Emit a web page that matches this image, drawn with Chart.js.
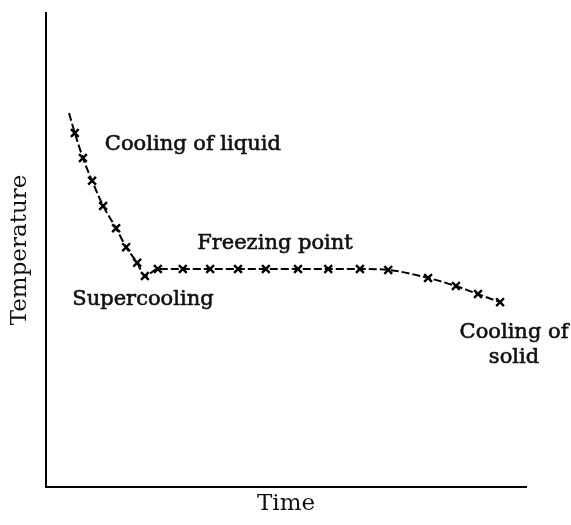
<!DOCTYPE html>
<html>
<head>
<meta charset="utf-8">
<script src="https://cdn.jsdelivr.net/npm/chart.js@4"></script>
<style>
  html, body { margin: 0; padding: 0; background: #fff; }
  canvas { display: block; }
</style>
</head>
<body>
<canvas id="chart" width="571" height="525"></canvas>
<script>
// cooling curve, arbitrary units (0-100 on both axes)
const time = [4.8, 6.0, 7.7, 9.6, 11.9, 14.6, 16.7, 19.0, 20.6, 23.3, 28.5, 34.2, 40.0, 45.8, 52.5, 58.8, 65.4, 71.3, 79.6, 85.4, 90.0, 94.6];
const temperature = [78.9, 74.7, 69.4, 64.6, 59.3, 54.6, 50.6, 47.3, 44.5, 46.0, 46.0, 46.0, 46.0, 46.0, 46.0, 46.0, 46.0, 45.8, 44.1, 42.4, 40.7, 39.0];

const xTitle = "Time";
const yTitle = "Temperature";

const notes = [
  { lines: ["Cooling of liquid"], x: 30.6, y: 71.1 },
  { lines: ["Freezing point"], x: 47.7, y: 50.2 },
  { lines: ["Supercooling"], x: 20.2, y: 38.4 },
  { lines: ["Cooling of", "solid"], x: 97.5, y: 31.4 },
];

const SERIF = "'DejaVu Serif', 'Liberation Serif', serif";
const INK = "#111";

// free text labels placed in data units
const notesPlugin = {
  id: "notes",
  afterDatasetsDraw(chart) {
    const { ctx } = chart;
    const xs = chart.scales.x;
    const ys = chart.scales.y;
    ctx.save();
    ctx.font = `21px ${SERIF}`;
    ctx.fillStyle = INK;
    ctx.strokeStyle = INK;
    ctx.lineWidth = 0.6;
    ctx.textAlign = "center";
    ctx.textBaseline = "alphabetic";
    notes.forEach((n) => {
      const px = xs.getPixelForValue(n.x);
      const py = ys.getPixelForValue(n.y);
      n.lines.forEach((line, i) => {
        ctx.fillText(line, px, py + i * 25);
        ctx.strokeText(line, px, py + i * 25);
      });
    });
    ctx.restore();
  },
};

const points = time.map((t, i) => ({ x: t, y: temperature[i] }));

new Chart(document.getElementById("chart").getContext("2d"), {
  type: "line",
  data: {
    datasets: [
      {
        data: points,
        borderColor: "#000",
        borderWidth: 2,
        borderDash: [8, 3],
        cubicInterpolationMode: "monotone",
        fill: false,
        pointStyle: "crossRot",
        pointRadius: (c) => (c.dataIndex === 0 ? 0 : 5.5),
        pointBorderWidth: 2.4,
        pointBorderColor: "#000",
        pointBackgroundColor: "#000",
      },
    ],
  },
  options: {
    responsive: false,
    animation: false,
    layout: { padding: { top: 13, right: 45, left: 0, bottom: 0 } },
    plugins: {
      legend: { display: false },
      tooltip: { enabled: false },
    },
    scales: {
      x: {
        type: "linear",
        min: 0,
        max: 100,
        grid: { display: false, drawTicks: false },
        ticks: { display: false },
        border: { color: "#000", width: 2 },
        title: {
          display: true,
          text: xTitle,
          color: INK,
          font: { family: SERIF, size: 23 },
          padding: { top: 3.4, bottom: 7 },
        },
      },
      y: {
        min: 0,
        max: 100,
        grid: { display: false, drawTicks: false },
        ticks: { display: false },
        border: { color: "#000", width: 2 },
        title: {
          display: true,
          text: yTitle,
          color: INK,
          font: { family: SERIF, size: 23 },
          padding: { top: 6, bottom: 12.4 },
        },
      },
    },
  },
  plugins: [notesPlugin],
});
</script>
</body>
</html>
